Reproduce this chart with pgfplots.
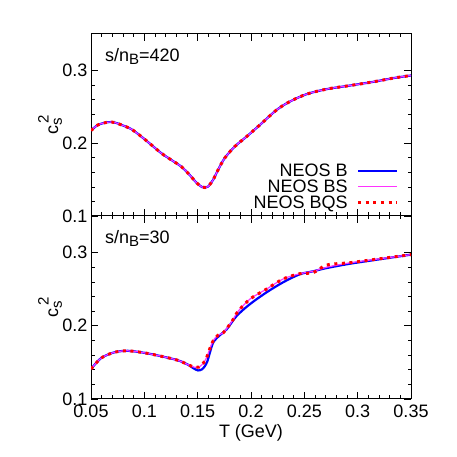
\documentclass[border=0pt]{standalone}
\usepackage{fontspec}
\setmainfont{Liberation Sans}
\usepackage{graphicx}
\usepackage{pgfplots}
\usepackage{pgfplotstable}
\pgfplotsset{compat=1.18}
\definecolor{bblue}{rgb}{0,0,1}
\definecolor{bsmag}{rgb}{1,0.2,1}
\definecolor{bqsred}{rgb}{1,0,0}

\pgfplotstableread{
T v
0.0500 0.2173
0.0566 0.2252
0.0660 0.2289
0.0722 0.2284
0.0784 0.2252
0.0878 0.2193
0.0972 0.2091
0.1066 0.1977
0.1160 0.1862
0.1253 0.1770
0.1347 0.1678
0.1425 0.1564
0.1488 0.1458
0.1540 0.1398
0.1569 0.1391
0.1597 0.1403
0.1644 0.1495
0.1691 0.1633
0.1753 0.1794
0.1847 0.1953
0.1966 0.2100
0.2084 0.2252
0.2241 0.2458
0.2366 0.2573
0.2522 0.2674
0.2710 0.2743
0.2928 0.2792
0.3147 0.2843
0.3334 0.2894
0.3500 0.2930
}\toptable

\pgfplotstableread{
T v
0.0500 0.1410
0.0597 0.1561
0.0722 0.1639
0.0847 0.1658
0.1003 0.1630
0.1159 0.1584
0.1316 0.1528
0.1409 0.1469
0.1460 0.1420
0.1503 0.1390
0.1540 0.1405
0.1566 0.1446
0.1590 0.1510
0.1612 0.1620
0.1647 0.1775
0.1709 0.1873
0.1772 0.1952
0.1866 0.2135
0.1991 0.2297
0.2147 0.2458
0.2303 0.2596
0.2459 0.2705
0.2584 0.2745
0.2710 0.2789
0.2928 0.2848
0.3178 0.2903
0.3500 0.2972
}\botB

\pgfplotstableread{
T v
0.0500 0.1410
0.0597 0.1561
0.0722 0.1639
0.0847 0.1658
0.1003 0.1630
0.1159 0.1584
0.1316 0.1528
0.1409 0.1469
0.1472 0.1432
0.1510 0.1435
0.1550 0.1483
0.1585 0.1570
0.1612 0.1680
0.1647 0.1800
0.1690 0.1870
0.1740 0.1905
0.1784 0.1985
0.1830 0.2080
0.1880 0.2200
0.1991 0.2366
0.2147 0.2503
0.2303 0.2641
0.2459 0.2712
0.2584 0.2745
0.2710 0.2800
0.2928 0.2860
0.3178 0.2910
0.3500 0.2972
}\botBS

\pgfplotstableread{
T v
0.0500 0.1410
0.0597 0.1561
0.0722 0.1639
0.0847 0.1658
0.1003 0.1630
0.1159 0.1584
0.1316 0.1528
0.1409 0.1469
0.1472 0.1432
0.1510 0.1435
0.1550 0.1483
0.1585 0.1570
0.1612 0.1680
0.1647 0.1800
0.1690 0.1870
0.1740 0.1905
0.1784 0.1985
0.1830 0.2080
0.1880 0.2200
0.1991 0.2366
0.2147 0.2503
0.2303 0.2641
0.2459 0.2712
0.2584 0.2726
0.2710 0.2830
0.2928 0.2862
0.3178 0.2910
0.3500 0.2972
}\botBQS

\newcommand{\cslabel}{c\rlap{\raisebox{-0.4ex}{\fontsize{15}{15}\selectfont s}}\raisebox{1.0ex}{\fontsize{15}{15}\selectfont \,2}}

\pgfplotsset{
  panel/.style={
    scale only axis,
    width=320pt, height=182pt,
    xmin=0.05, xmax=0.35, ymin=0.1, ymax=0.35,
    xtick={0.05,0.1,0.15,0.2,0.25,0.3,0.35},
    ytick={0.1,0.2,0.3},
    minor x tick num=4, minor y tick num=4,
    major tick length=7pt, minor tick length=3.5pt,
    tick style={black, line width=0.7pt},
    axis line style={line width=1pt},
    /pgf/number format/assume math mode=true,
    /pgf/number format/fixed,
    /pgf/number format/precision=2,
    tick label style={font=\fontsize{18}{20}\selectfont},
    label style={font=\fontsize{18}{20}\selectfont},
    xticklabel style={yshift=-2.5pt},
    clip mode=individual,
  },
  lB/.style={bblue, line width=2.2pt, smooth},
  lBS/.style={bsmag, line width=1.2pt, smooth},
  lBQS/.style={bqsred, line width=3pt, dash pattern=on 3pt off 4.6pt, smooth},
}

\begin{document}
\begin{tikzpicture}
\useasboundingbox (0,0) rectangle (457pt,457pt);
\begin{axis}[panel,
  at={(91pt,241pt)}, anchor=south west,
  xticklabels={},
  legend plot pos=right,
  legend cell align=right,
  legend style={draw=none, fill=none, inner sep=0pt,
    at={(rel axis cs:0.962,0.027)}, anchor=south east,
    font=\fontsize{18}{20}\selectfont,
    nodes={inner sep=1pt}},
  legend image code/.code={\path (0pt,0pt); \draw[#1] (8pt,0pt) -- (47pt,0pt);},
]
\addplot[lB] table[x=T,y=v] {\toptable};
\addlegendentry{NEOS B}
\addplot[lBS] table[x=T,y=v] {\toptable};
\addlegendentry{NEOS BS}
\addplot[lBQS] table[x=T,y=v] {\toptable};
\addlegendentry{NEOS BQS}
\node[anchor=base west, font=\fontsize{18}{20}\selectfont] at (rel axis cs:0.033,0.848) {s/n\raisebox{-0.35ex}{\fontsize{15}{15}\selectfont B}=420};
\node[anchor=center, font=\fontsize{18}{20}\selectfont] at (rel axis cs:-0.128,0.5) {\rotatebox{90}{\cslabel}};
\end{axis}
\begin{axis}[panel,
  at={(91pt,58pt)}, anchor=south west,
  height=183pt,
  xlabel={T (GeV)},
  xlabel style={at={(axis description cs:0.5,0)}, anchor=base, yshift=-38pt},
]
\addplot[lB] table[x=T,y=v] {\botB};
\addplot[lBS] table[x=T,y=v] {\botBS};
\addplot[lBQS] table[x=T,y=v] {\botBQS};
\node[anchor=base west, font=\fontsize{18}{20}\selectfont] at (rel axis cs:0.033,0.85) {s/n\raisebox{-0.35ex}{\fontsize{15}{15}\selectfont B}=30};
\node[rotate=90.01, anchor=center, font=\fontsize{18}{20}\selectfont] at (rel axis cs:-0.128,0.5) {\cslabel};
\end{axis}
\end{tikzpicture}
\end{document}
